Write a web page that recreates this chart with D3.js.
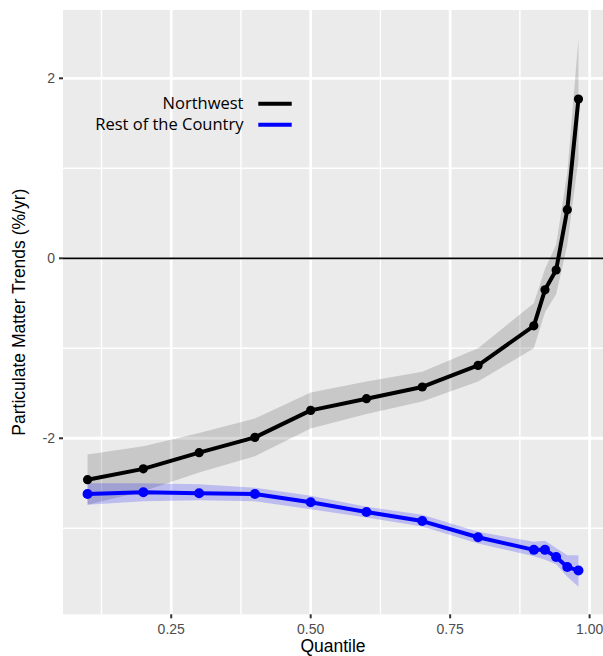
<!DOCTYPE html>
<html>
<head>
<meta charset="utf-8">
<script src="https://cdn.jsdelivr.net/npm/d3@7"></script>
<style>
    body { margin: 0; background: #fff; }
    svg { display: block; }
</style>
</head>
<body>
<div id="chart"></div>
<script>
"use strict";

// quantiles and trends (%/yr)
const quantiles = [0.1, 0.2, 0.3, 0.4, 0.5, 0.6, 0.7, 0.8, 0.9, 0.92, 0.94, 0.96, 0.98];

const northwest = [-2.46, -2.34, -2.16, -1.99, -1.69, -1.56, -1.43, -1.19, -0.75, -0.35, -0.13, 0.54, 1.77];
const northwestLow = [-2.74, -2.59, -2.38, -2.20, -1.89, -1.73, -1.59, -1.37, -1.00, -0.60, -0.40, 0.15, 1.10];
const northwestHigh = [-2.18, -2.09, -1.94, -1.78, -1.49, -1.37, -1.26, -1.00, -0.50, -0.12, 0.15, 0.95, 2.44];

const rest = [-2.62, -2.60, -2.61, -2.62, -2.71, -2.82, -2.92, -3.10, -3.24, -3.24, -3.32, -3.43, -3.47];
const restLow = [-2.74, -2.70, -2.69, -2.70, -2.79, -2.88, -2.98, -3.17, -3.31, -3.35, -3.40, -3.54, -3.65];
const restHigh = [-2.50, -2.50, -2.51, -2.55, -2.64, -2.76, -2.85, -3.04, -3.15, -3.14, -3.22, -3.30, -3.30];

const seriesNames = ["Northwest", "Rest of the Country"];
const seriesColors = ["#000000", "#0000ff"];

const xTicks = [0.25, 0.50, 0.75, 1.00];
const xMinor = [0.125, 0.375, 0.625, 0.875];
const yTicks = [-2, 0, 2];
const yMinor = [-3, -1, 1];

const width = 603;
const height = 656;
const panel = { left: 63, right: 603, top: 10, bottom: 614.3 };

const x = d3.scaleLinear().domain([0.056, 1.024]).range([panel.left, panel.right]);
const y = d3.scaleLinear().domain([-3.956, 2.759]).range([panel.bottom, panel.top]);

const svg = d3.select("#chart").append("svg")
    .attr("width", width)
    .attr("height", height)
    .style("font-family", "Arial, 'Liberation Sans', sans-serif");

// panel background and grid
svg.append("rect")
    .attr("x", panel.left).attr("y", panel.top)
    .attr("width", panel.right - panel.left).attr("height", panel.bottom - panel.top)
    .attr("fill", "#ebebeb");

const grid = svg.append("g").attr("stroke", "#fff");
grid.selectAll(".vmin").data(xMinor).enter().append("line")
    .attr("x1", d => x(d)).attr("x2", d => x(d))
    .attr("y1", panel.top).attr("y2", panel.bottom)
    .attr("stroke-width", 1.4);
grid.selectAll(".hmin").data(yMinor).enter().append("line")
    .attr("x1", panel.left).attr("x2", panel.right)
    .attr("y1", d => y(d)).attr("y2", d => y(d))
    .attr("stroke-width", 1.4);
grid.selectAll(".vmaj").data(xTicks).enter().append("line")
    .attr("x1", d => x(d)).attr("x2", d => x(d))
    .attr("y1", panel.top).attr("y2", panel.bottom)
    .attr("stroke-width", 2.8);
grid.selectAll(".hmaj").data(yTicks).enter().append("line")
    .attr("x1", panel.left).attr("x2", panel.right)
    .attr("y1", d => y(d)).attr("y2", d => y(d))
    .attr("stroke-width", 2.8);

// build rows for each series
function rows(mid, low, high) {
    return quantiles.map((q, i) => ({ q: q, v: mid[i], lo: low[i], hi: high[i] }));
}
const series = [
    rows(northwest, northwestLow, northwestHigh),
    rows(rest, restLow, restHigh)
];

const area = d3.area().x(d => x(d.q)).y0(d => y(d.lo)).y1(d => y(d.hi));
const line = d3.line().x(d => x(d.q)).y(d => y(d.v));

// ribbons
svg.append("path").datum(series[0])
    .attr("d", area).attr("fill", "#000").attr("fill-opacity", 0.15);
svg.append("path").datum(series[1])
    .attr("d", area).attr("fill", "#0000ff").attr("fill-opacity", 0.2);

// zero line
svg.append("line")
    .attr("x1", panel.left).attr("x2", panel.right)
    .attr("y1", y(0)).attr("y2", y(0))
    .attr("stroke", "#000").attr("stroke-width", 1.8);

// lines and points
series.forEach(function (s, i) {
    svg.append("path").datum(s)
        .attr("d", line)
        .attr("fill", "none")
        .attr("stroke", seriesColors[i])
        .attr("stroke-width", 4)
        .attr("stroke-linejoin", "round");
    svg.append("g").selectAll("circle").data(s).enter().append("circle")
        .attr("cx", d => x(d.q)).attr("cy", d => y(d.v))
        .attr("r", i === 0 ? 4.6 : 5)
        .attr("fill", seriesColors[i]);
});

// axes
const axes = svg.append("g");
axes.selectAll(".xt").data(xTicks).enter().append("line")
    .attr("x1", d => x(d)).attr("x2", d => x(d))
    .attr("y1", panel.bottom).attr("y2", panel.bottom + 4)
    .attr("stroke", "#333").attr("stroke-width", 2);
axes.selectAll(".xl").data(xTicks).enter().append("text")
    .attr("x", d => x(d)).attr("y", 634)
    .attr("text-anchor", "middle")
    .attr("font-size", 14).attr("fill", "#4d4d4d")
    .text(d => d3.format(".2f")(d));
axes.selectAll(".yt").data(yTicks).enter().append("line")
    .attr("x1", panel.left - 4).attr("x2", panel.left)
    .attr("y1", d => y(d)).attr("y2", d => y(d))
    .attr("stroke", "#333").attr("stroke-width", 2);
axes.selectAll(".yl").data(yTicks).enter().append("text")
    .attr("x", 55).attr("y", d => y(d)).attr("dy", "0.36em")
    .attr("text-anchor", "end")
    .attr("font-size", 14).attr("fill", "#4d4d4d")
    .text(d => d < 0 ? "-" + Math.abs(d) : String(d));

svg.append("text")
    .attr("x", (panel.left + panel.right) / 2).attr("y", 652)
    .attr("text-anchor", "middle")
    .attr("font-size", 17.5).attr("fill", "#000")
    .text("Quantile");
svg.append("text")
    .attr("transform", `translate(25,${(panel.top + panel.bottom) / 2}) rotate(-90)`)
    .attr("text-anchor", "middle")
    .attr("font-size", 17.5).attr("fill", "#000")
    .text("Particulate Matter Trends (%/yr)");

// legend
const legend = svg.append("g")
    .style("font-family", "'Open Sans', 'Noto Sans', sans-serif");
const legendY = [103.7, 124.7];
seriesNames.forEach(function (name, i) {
    legend.append("text")
        .attr("x", 243.5).attr("y", legendY[i]).attr("dy", "0.34em")
        .attr("text-anchor", "end")
        .attr("font-size", 16.5).attr("fill", "#000")
        .text(name);
    legend.append("line")
        .attr("x1", 258.3).attr("x2", 291.7)
        .attr("y1", legendY[i]).attr("y2", legendY[i])
        .attr("stroke", seriesColors[i]).attr("stroke-width", 4);
});
</script>
</body>
</html>
